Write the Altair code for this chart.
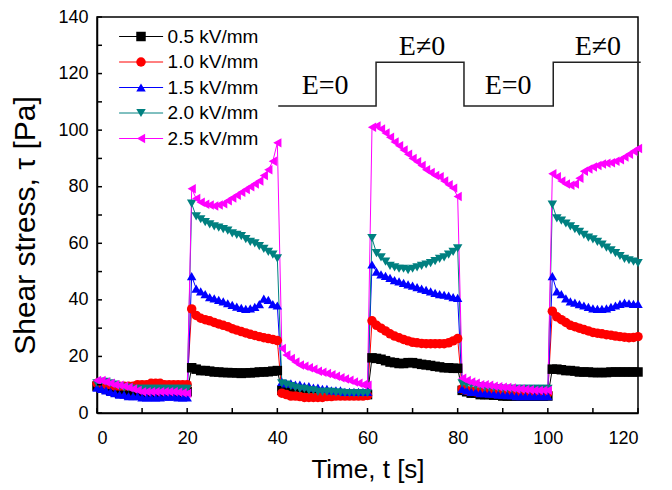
import altair as alt
import pandas as pd

# ---------------- data ----------------
series_names = ["0.5 kV/mm", "1.0 kV/mm", "1.5 kV/mm", "2.0 kV/mm", "2.5 kV/mm"]
series_colors = ["#000000", "#ff0000", "#0000ff", "#008080", "#ff00ff"]
series_shapes = ["square", "circle", "triangle-up", "triangle-down", "triangle-left"]

# sampling times (s): off 0-20, on 21-40, off 41-60, on 61-80, off 81-100, on 101-120
time_s = list(range(0, 121))

tau_05 = [
    9.5, 9, 8.5, 8, 7.5, 7, 7, 6.5, 6.5, 6.5, 6.5, 7, 7, 7, 7, 7, 7, 7, 7, 7.5, 7.5,
    16, 15.5, 15, 15, 14.8, 14.5, 14.5, 14.3, 14.3, 14.2, 14.2, 14, 14.2, 14.2, 14.3, 14.5, 14.5, 14.6, 14.8, 15,
    8, 7.8, 7.5, 7.3, 7, 7, 6.8, 6.8, 6.8, 6.5, 6.5, 6.5, 6.5, 6.5, 6.5, 6.5, 6.5, 6.5, 6.5, 6.5,
    19.5, 19.3, 19, 18.5, 18, 17.8, 17.5, 17.5, 17.8, 17.8, 17.5, 17.2, 17, 16.8, 16.5, 16.3, 16, 16, 15.8, 15.8,
    8, 7.5, 7, 7, 6.5, 6.5, 6.5, 6.3, 6.3, 6, 6, 6, 6, 6, 6, 6, 6, 6, 6, 6,
    15.5, 15.5, 15.3, 15, 15, 14.8, 14.5, 14.5, 14.5, 14.3, 14.3, 14.3, 14.3, 14.5, 14.5, 14.5, 14.5, 14.5, 14.5, 14.5,
]
tau_10 = [
    10.5, 10.5, 10, 10, 9.5, 9.5, 9.5, 9.5, 9.5, 10, 10, 10, 10.5, 10.5, 10.5, 10, 10, 10, 10, 10, 10,
    36.8, 34.5, 33.5, 33, 32.6, 32, 31.5, 31, 30.5, 29.8, 29.3, 28.8, 28.3, 27.8, 27.4, 27, 26.6, 26.3, 26, 25.6,
    7, 6.5, 6, 6, 5.8, 5.5, 5.5, 5.5, 5.5, 5.5, 5.8, 5.8, 6, 6, 6, 6, 6, 6, 6, 6.2,
    32.6, 31, 30, 29, 28, 27.2, 26.6, 26, 25.5, 25, 24.8, 24.6, 24.5, 24.5, 24.5, 24.5, 24.5, 24.8, 25.5, 26.3,
    8.5, 8, 7.8, 7.5, 7.5, 7.3, 7.2, 7, 7, 7, 7, 7, 7, 7, 7, 7, 7, 7, 7, 7,
    36, 34, 33, 32, 31, 30.5, 30, 29.5, 29, 28.5, 28.2, 28, 27.7, 27.5, 27.2, 27, 26.8, 26.6, 26.7, 27,
]
tau_15 = [
    9, 8.5, 8, 7.5, 7, 6.5, 6.5, 6, 6, 6, 5.5, 5.5, 5.5, 5.5, 5.5, 5.8, 5.8, 5.8, 5.5, 5.5, 5.5,
    48.4, 44, 43, 42, 41, 40.5, 40, 39.5, 38.8, 38.2, 37.6, 37.2, 36.8, 37, 37.5, 38.5, 40.4, 40, 38.5, 38,
    11, 10.5, 10.5, 10, 10, 9.5, 9.5, 9, 9, 8.5, 8.5, 8, 8, 8, 7.5, 7.5, 7.5, 7.5, 7.5, 7.5,
    52.5, 50, 49, 48.5, 47.8, 47, 46.5, 46, 45.5, 45, 44.5, 44, 43.5, 43, 42.5, 42, 41.8, 41.5, 41, 40.7,
    8.5, 8, 7.5, 7.5, 7, 7, 6.8, 6.8, 6.5, 6.5, 6.3, 6.3, 6, 6, 6, 6, 6, 6, 6, 6,
    48.4, 43, 42, 40.5, 39.5, 39, 38.5, 38, 37.5, 37, 36.8, 36.8, 37, 37.5, 38, 38.6, 39, 38.8, 38.6, 38.6,
]
tau_20 = [
    10.5, 11, 11, 10.5, 10, 9.5, 9, 9, 8.5, 8.5, 8.5, 8.5, 8.5, 8.5, 8.5, 8.5, 8.5, 8.5, 8.5, 8.5, 8.5,
    74, 69.5, 68.5, 67.5, 66.7, 66, 65.5, 65, 64.5, 63.5, 63, 62.5, 61.5, 60.5, 60, 59, 58, 57, 56, 54.7,
    10.5, 10, 9.5, 9, 8.5, 8.5, 8, 8, 7.5, 7.5, 7.5, 7.5, 7.2, 7.2, 7, 7, 7, 7, 7, 7,
    61.8, 56.5, 55, 53.5, 52, 51.5, 51, 51, 50.5, 51, 51.5, 52, 52.5, 53, 53.7, 54.5, 55, 56, 57, 58.2,
    10.5, 10, 10, 9.5, 9.5, 9, 9, 8.8, 8.8, 8.5, 8.5, 8.5, 8.5, 8.5, 8.5, 8.5, 8.5, 8.5, 8.5, 8.5,
    73.7, 68.8, 68, 67, 66, 65, 64, 63, 62, 61.4, 60.5, 59.5, 58.5, 57.5, 56.5, 55.5, 54.5, 54, 53.5, 53,
]
tau_25 = [
    11.5, 11.5, 11, 10.5, 10, 9.8, 9.5, 9, 8.5, 8, 7.5, 7.5, 7.5, 7.5, 7.5, 7.5, 7.5, 7.5, 7.3, 7.2, 7,
    79.3, 75.8, 74.5, 73.8, 73.5, 73.2, 73.5, 74, 75, 76, 77, 78, 79, 80, 81, 82, 84, 86, 89, 95.5,
    22.8, 20.5, 19.3, 18, 17, 16.5, 16, 15.5, 14.8, 14.4, 14, 13.5, 13, 12.5, 12, 11.6, 11, 10.5, 10, 9.8,
    101, 101.5, 100.4, 99, 97.5, 95.8, 94.5, 93, 91.5, 90, 88.8, 87.5, 86, 85, 84, 83.5, 82, 80.7, 79.5, 76.5,
    12.3, 11.5, 11, 10.5, 10, 10, 9.8, 9.5, 9.3, 9.1, 9, 8.8, 8.5, 8.5, 8.3, 8.2, 8, 8, 8, 8,
    84.6, 83.5, 82, 81, 80.5, 81, 83, 85.5, 86.3, 87, 87.5, 88, 88.3, 88.5, 89, 89.5, 90.5, 91.5, 92.5, 93.5,
]
all_series = [tau_05, tau_10, tau_15, tau_20, tau_25]

# field-state annotation (step outline and labels)
step_t = [40.2, 61.9, 61.9, 81.4, 81.4, 101.2, 101.2, 120.6]
step_v = [108.5, 108.5, 124, 124, 108.5, 108.5, 124, 124]
label_text = ["E=0", "E\u22600", "E=0", "E\u22600"]
label_t = [50.6, 72.1, 91.2, 111.1]
label_v = [115.5, 129.5, 115.5, 129.5]

x_ticks = list(range(0, 121, 10))
y_ticks = list(range(0, 141, 10))
x_labels = list(range(0, 121, 20))
y_labels = list(range(0, 141, 20))

# ---------------- tables ----------------
rows = []
for k, (name, vals) in enumerate(zip(series_names, all_series)):
    for t, v in zip(time_s, vals):
        rows.append({"t": t, "v": v, "series": name, "k": k})
df = pd.DataFrame(rows)
step_df = pd.DataFrame({"t": step_t, "v": step_v, "i": list(range(len(step_t)))})
lab_df = pd.DataFrame({"t": label_t, "v": label_v, "txt": label_text})
xt_df = pd.DataFrame({"t": x_ticks})
yt_df = pd.DataFrame({"v": y_ticks})

W, H = 541, 396
TICK = 5

xscale = alt.Scale(domain=[0, 120], nice=False, zero=False)
yscale = alt.Scale(domain=[0, 140], nice=False, zero=False)
xaxis = alt.Axis(
    values=x_labels, ticks=False, labelPadding=16, title="Time, t [s]",
    titleFontSize=26, titlePadding=9, grid=False,
)
yaxis = alt.Axis(
    values=y_labels, ticks=False, labelPadding=9, title="Shear stress, \u03c4 [Pa]",
    titleFontSize=30, titlePadding=17, titleY=208, grid=False,
)
X = alt.X("t:Q", scale=xscale, axis=xaxis)
Y = alt.Y("v:Q", scale=yscale, axis=yaxis)

cscale = alt.Scale(domain=series_names, range=series_colors)
sscale = alt.Scale(domain=series_names, range=series_shapes)

# legend: line-with-marker look built from two overlaid legends
line_legend = alt.Legend(
    orient="none", legendX=21, legendY=10, title=None, symbolType="M-5,0H5",
    symbolSize=77.4, symbolStrokeWidth=1, symbolOffset=13.6,
    labelFont="Liberation Sans", labelFontSize=19, labelOffset=17,
    rowPadding=5.5, padding=0, labelColor="black",
)
point_legend = alt.Legend(
    orient="none", legendX=21, legendY=10, title=None, symbolSize=90,
    symbolOffset=13.5, labelFont="Liberation Sans", labelFontSize=19,
    labelOffset=17, rowPadding=5.5, padding=0, labelOpacity=0,
)

lines = alt.Chart(df).mark_line(strokeWidth=1).encode(
    x=X, y=Y,
    color=alt.Color("series:N", scale=cscale, legend=line_legend),
    detail="series:N",
)
points = alt.Chart(df).mark_point(filled=True, size=90, opacity=1).encode(
    x=X, y=Y,
    color=alt.Color("series:N", scale=cscale, legend=point_legend),
    shape=alt.Shape("series:N", scale=sscale, legend=point_legend),
)
step = alt.Chart(step_df).mark_line(color="#222222", strokeWidth=1.5).encode(
    x=X, y=Y, order="i:Q",
)
texts = alt.Chart(lab_df).mark_text(
    font="Liberation Serif", fontSize=28, baseline="middle", align="center", color="black"
).encode(x=X, y=Y, text="txt:N")
xticks = alt.Chart(xt_df).mark_rule(color="black", strokeWidth=1.5).encode(
    x=X, y=alt.value(H), y2=alt.value(H - TICK),
)
yticks = alt.Chart(yt_df).mark_rule(color="black", strokeWidth=1.5).encode(
    y=Y, x=alt.value(0), x2=alt.value(TICK),
)

chart = alt.layer(lines, points, step, texts, xticks, yticks).resolve_legend(
    color="independent", shape="independent"
).properties(
    width=W, height=H,
    autosize=alt.AutoSizeParams(type="none"),
    padding={"left": 89, "top": 9, "right": 20, "bottom": 75},
).configure_view(
    stroke="black", strokeWidth=1.5
).configure_axis(
    labelFont="Liberation Sans", labelFontSize=18, labelColor="black",
    titleFont="Liberation Sans", titleFontWeight="normal", titleColor="black",
    domainColor="black", domainWidth=1.5,
)

chart.save("out.html", embed_options={"renderer": "svg", "actions": False})
